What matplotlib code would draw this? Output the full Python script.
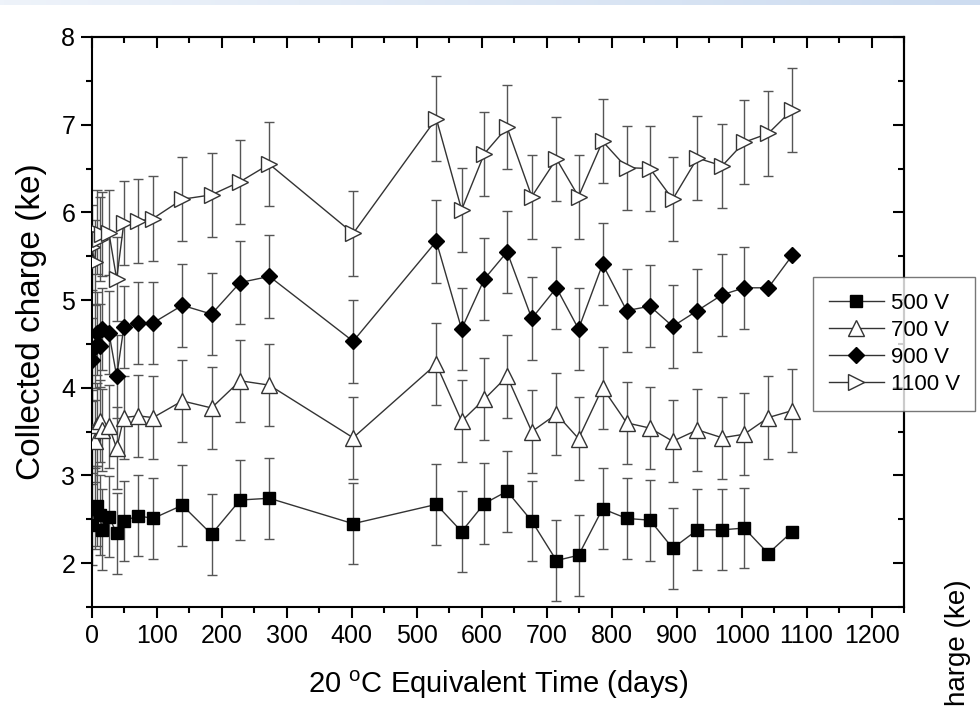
import numpy as np
import matplotlib
matplotlib.use("Agg")
import matplotlib.pyplot as plt
from matplotlib.ticker import MultipleLocator
from matplotlib.colors import LinearSegmentedColormap

plt.rcParams['font.family'] = ['Liberation Sans', 'DejaVu Sans']

# 20 C equivalent time (days)
days = [0, 4, 8, 12, 16, 26, 38, 49, 71, 94, 139, 184, 228, 273, 402, 530,
        569, 604, 639, 677, 715, 749, 786, 823, 859, 894, 932, 970, 1004,
        1041, 1078]

# collected charge (ke)
q_500 = [2.44, 2.62, 2.65, 2.55, 2.38, 2.53, 2.34, 2.48, 2.54, 2.51, 2.66,
         2.33, 2.72, 2.74, 2.45, 2.67, 2.36, 2.68, 2.82, 2.48, 2.03, 2.09,
         2.62, 2.51, 2.49, 2.17, 2.38, 2.38, 2.40, 2.11, 2.36]
q_700 = [3.50, 3.39, 3.58, 3.62, 3.52, 3.56, 3.31, 3.66, 3.68, 3.66, 3.85,
         3.77, 4.08, 4.03, 3.43, 4.27, 3.62, 3.87, 4.13, 3.50, 3.70, 3.42,
         4.00, 3.60, 3.54, 3.39, 3.52, 3.43, 3.47, 3.66, 3.74]
q_900 = [4.32, 4.47, 4.62, 4.48, 4.67, 4.63, 4.13, 4.69, 4.74, 4.74, 4.94,
         4.84, 5.20, 5.27, 4.53, 5.67, 4.67, 5.24, 5.55, 4.79, 5.14, 4.67,
         5.41, 4.88, 4.93, 4.70, 4.88, 5.06, 5.14, 5.14, 5.51]
q_1100 = [5.60, 5.43, 5.78, 5.70, 5.75, 5.77, 5.24, 5.88, 5.90, 5.93, 6.15,
          6.20, 6.35, 6.55, 5.76, 7.07, 6.03, 6.67, 6.97, 6.18, 6.61, 6.18,
          6.81, 6.51, 6.50, 6.15, 6.62, 6.53, 6.80, 6.90, 7.17]

# uncertainties (last two 500 V / 900 V points have none)
err_500 = [0.46] * 29 + [np.nan, np.nan]
err_700 = [0.47] * 31
err_900 = [0.47] * 29 + [np.nan, np.nan]
err_1100 = [0.48] * 31

labels = ['500 V', '700 V', '900 V', '1100 V']

fig = plt.figure(figsize=(9.8, 7.18), dpi=100)
ax = fig.add_axes([92 / 980, 1 - 607 / 718, 812 / 980, 570 / 718])

# thin blue strip on top of the slide
strip = fig.add_axes([0, 1 - 5 / 718, 1, 5 / 718])
grad = np.linspace(0, 1, 256).reshape(1, -1)
strip.imshow(grad, aspect='auto',
             cmap=LinearSegmentedColormap.from_list('strip', ['#eef3fa', '#cddcf0']))
strip.axis('off')

series = [
    (q_500, err_500, dict(marker='s', ms=8, mfc='black', mec='black')),
    (q_700, err_700, dict(marker='^', ms=11, mfc='white', mec='#333333', mew=1.0)),
    (q_900, err_900, dict(marker='D', ms=8.5, mfc='black', mec='black')),
    (q_1100, err_1100, dict(marker='>', ms=11, mfc='white', mec='#333333', mew=1.0)),
]

for (vals, errs, style), lab in zip(series, labels):
    ax.errorbar(days, vals, yerr=errs, fmt='none', ecolor='#555555',
                elinewidth=1.0, capsize=3.8, capthick=1.0, zorder=2)
    ax.plot(days, vals, color='#333333', lw=1.0, label=lab, zorder=3, **style)

ax.set_xlim(0, 1250)
ax.set_ylim(1.5, 8)
ax.xaxis.set_major_locator(MultipleLocator(100))
ax.xaxis.set_minor_locator(MultipleLocator(50))
ax.yaxis.set_major_locator(MultipleLocator(1))
ax.yaxis.set_minor_locator(MultipleLocator(0.5))

for s in ax.spines.values():
    s.set_linewidth(1.5)

ax.tick_params(which='both', direction='out', top=False, right=False, width=1.5,
               labelsize=18, pad=4)
ax.tick_params(which='major', length=8)
ax.tick_params(which='minor', length=4)

# Origin style: inward ticks on the top and right frame
ax_t = ax.secondary_xaxis('top')
ax_t.xaxis.set_major_locator(MultipleLocator(100))
ax_t.xaxis.set_minor_locator(MultipleLocator(50))
ax_t.tick_params(which='both', direction='in', width=1.5, labeltop=False)
ax_t.tick_params(which='major', length=8)
ax_t.tick_params(which='minor', length=4)
ax_r = ax.secondary_yaxis('right')
ax_r.yaxis.set_major_locator(MultipleLocator(1))
ax_r.yaxis.set_minor_locator(MultipleLocator(0.5))
ax_r.tick_params(which='both', direction='in', width=1.5, labelright=False)
ax_r.tick_params(which='major', length=8)
ax_r.tick_params(which='minor', length=4)
for sec in (ax_t, ax_r):
    for s in sec.spines.values():
        s.set_linewidth(1.5)

ax.set_xlabel('20 $^\\mathregular{o}$C Equivalent Time (days)', fontsize=21, labelpad=15)
ax.set_ylabel('Collected charge (ke)', fontsize=24, labelpad=10)

leg = ax.legend(loc='upper left', bbox_to_anchor=(813 / 980, 1 - 277 / 718),
                bbox_transform=fig.transFigure, fontsize=16, frameon=True,
                fancybox=False, handlelength=2.5, labelspacing=0.28,
                borderpad=0.7, handletextpad=0.3, borderaxespad=0)
leg.get_frame().set_edgecolor('#555555')
leg.get_frame().set_linewidth(1.0)
leg.set_zorder(10)

# cropped label of a neighbouring panel on the slide
fig.text(958 / 980, 1 - 643 / 718, 'harge (ke)', rotation=90, fontsize=20,
         ha='center', va='center')

fig.savefig('out.png', dpi=100)
